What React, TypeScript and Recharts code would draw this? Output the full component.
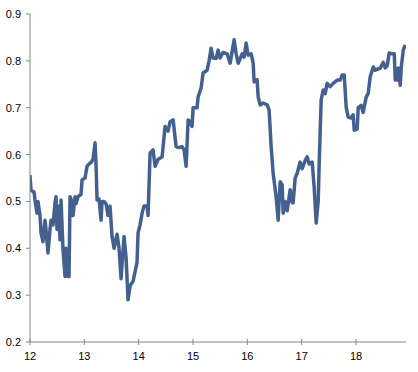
import { LineChart, Line, XAxis, YAxis } from "recharts";

// time (x) and level (y)
const times = [
  12.0, 12.018, 12.074, 12.092, 12.129, 12.147, 12.184, 12.203, 12.239, 12.276,
  12.295, 12.331, 12.368, 12.387, 12.424, 12.46, 12.479, 12.497, 12.534, 12.552,
  12.571, 12.608, 12.645, 12.663, 12.7, 12.718, 12.737, 12.755, 12.792, 12.829,
  12.847, 12.884, 12.939, 12.958, 13.013, 13.05, 13.087, 13.123, 13.16, 13.197,
  13.215, 13.234, 13.271, 13.308, 13.326, 13.363, 13.4, 13.436, 13.473, 13.51,
  13.547, 13.602, 13.639, 13.676, 13.731, 13.768, 13.805, 13.842, 13.897, 13.97,
  13.989, 14.026, 14.063, 14.099, 14.155, 14.173, 14.21, 14.265, 14.302, 14.357,
  14.431, 14.486, 14.541, 14.578, 14.634, 14.689, 14.744, 14.799, 14.836, 14.873,
  14.91, 14.947, 14.983, 15.002, 15.075, 15.094, 15.149, 15.186, 15.26, 15.296,
  15.333, 15.37, 15.425, 15.462, 15.499, 15.554, 15.628, 15.683, 15.72, 15.757,
  15.794, 15.831, 15.904, 15.941, 15.978, 16.015, 16.07, 16.107, 16.125, 16.18,
  16.199, 16.236, 16.291, 16.365, 16.401, 16.438, 16.475, 16.53, 16.567, 16.604,
  16.641, 16.659, 16.696, 16.733, 16.788, 16.825, 16.843, 16.88, 16.917, 16.972,
  17.009, 17.064, 17.101, 17.138, 17.193, 17.23, 17.267, 17.304, 17.322, 17.359,
  17.396, 17.433, 17.469, 17.525, 17.58, 17.654, 17.709, 17.746, 17.783, 17.82,
  17.856, 17.911, 17.948, 17.967, 18.022, 18.04, 18.095, 18.132, 18.188, 18.224,
  18.261, 18.317, 18.354, 18.39, 18.446, 18.501, 18.538, 18.575, 18.611, 18.667,
  18.704, 18.722, 18.759, 18.777, 18.814, 18.832, 18.869, 18.906,
];

const levels = [
  0.556, 0.524, 0.52, 0.503, 0.475, 0.5, 0.47, 0.433, 0.414, 0.46,
  0.44, 0.39, 0.44, 0.46, 0.45, 0.497, 0.51, 0.44, 0.49, 0.418,
  0.503, 0.396, 0.34, 0.4, 0.34, 0.34, 0.51, 0.505, 0.47, 0.51,
  0.495, 0.51, 0.515, 0.546, 0.55, 0.575, 0.58, 0.583, 0.59, 0.625,
  0.58, 0.503, 0.505, 0.46, 0.5, 0.5, 0.495, 0.47, 0.49, 0.425,
  0.4, 0.43, 0.4, 0.335, 0.425, 0.38, 0.29, 0.32, 0.33, 0.37,
  0.433, 0.45, 0.475, 0.49, 0.49, 0.47, 0.603, 0.61, 0.575, 0.59,
  0.595, 0.66, 0.65, 0.67, 0.674, 0.617, 0.615, 0.617, 0.61, 0.575,
  0.674, 0.67, 0.66, 0.7, 0.7, 0.723, 0.742, 0.774, 0.78, 0.8,
  0.827, 0.806, 0.805, 0.823, 0.806, 0.818, 0.815, 0.795, 0.82, 0.845,
  0.815, 0.795, 0.815, 0.808, 0.838, 0.812, 0.815, 0.795, 0.755, 0.76,
  0.723, 0.706, 0.71, 0.706, 0.695, 0.617, 0.56, 0.51, 0.46, 0.542,
  0.535, 0.475, 0.5, 0.48, 0.525, 0.497, 0.497, 0.55, 0.56, 0.584,
  0.57, 0.587, 0.595, 0.58, 0.584, 0.53, 0.454, 0.5, 0.58, 0.717,
  0.738, 0.73, 0.752, 0.745, 0.752, 0.759, 0.759, 0.77, 0.77, 0.7,
  0.68, 0.678, 0.685, 0.652, 0.655, 0.7, 0.705, 0.69, 0.723, 0.73,
  0.766, 0.787, 0.78, 0.782, 0.784, 0.797, 0.785, 0.79, 0.817, 0.815,
  0.815, 0.759, 0.759, 0.785, 0.748, 0.785, 0.823, 0.834,
];

const xTicks = [12, 13, 14, 15, 16, 17, 18];
const yTicks = [0.2, 0.3, 0.4, 0.5, 0.6, 0.7, 0.8, 0.9];

const data = times.map((t, i) => ({ t, v: levels[i] }));

const AXIS = "#868686";
const FONT = "'Liberation Sans', Arial, sans-serif";

function XTick({ x, y, payload }: any) {
  return (
    <g>
      <line x1={x} x2={x} y1={y - 3} y2={y + 3} stroke={AXIS} />
      <text x={x} y={y + 18} textAnchor="middle" fontSize={11} fill="#000" fontFamily={FONT}>
        {payload.value}
      </text>
    </g>
  );
}

function YTick({ x, y, payload }: any) {
  return (
    <g>
      <line x1={x - 4} x2={x} y1={y} y2={y} stroke={AXIS} />
      <text x={x - 9} y={y + 4} textAnchor="end" fontSize={11} fill="#000" fontFamily={FONT}>
        {payload.value.toFixed(1)}
      </text>
    </g>
  );
}

export default function App() {
  return (
    <div style={{ position: "absolute", left: 0, top: 0, width: 418, height: 372, background: "#fff" }}>
      <LineChart width={418} height={372} data={data} margin={{ top: 14, right: 12, bottom: 0, left: 0 }}>
        <XAxis
          dataKey="t"
          type="number"
          domain={[12, 18.92]}
          ticks={xTicks}
          height={30}
          tickSize={0}
          tickMargin={0}
          axisLine={{ stroke: AXIS }}
          tickLine={false}
          tick={<XTick />}
          allowDataOverflow
        />
        <YAxis
          type="number"
          domain={[0.2, 0.9]}
          ticks={yTicks}
          width={30}
          tickSize={0}
          tickMargin={0}
          axisLine={{ stroke: AXIS }}
          tickLine={false}
          tick={<YTick />}
        />
        <Line
          type="linear"
          dataKey="v"
          stroke="#44608F"
          strokeWidth={3.5}
          strokeLinejoin="round"
          dot={false}
          isAnimationActive={false}
        />
      </LineChart>
    </div>
  );
}
